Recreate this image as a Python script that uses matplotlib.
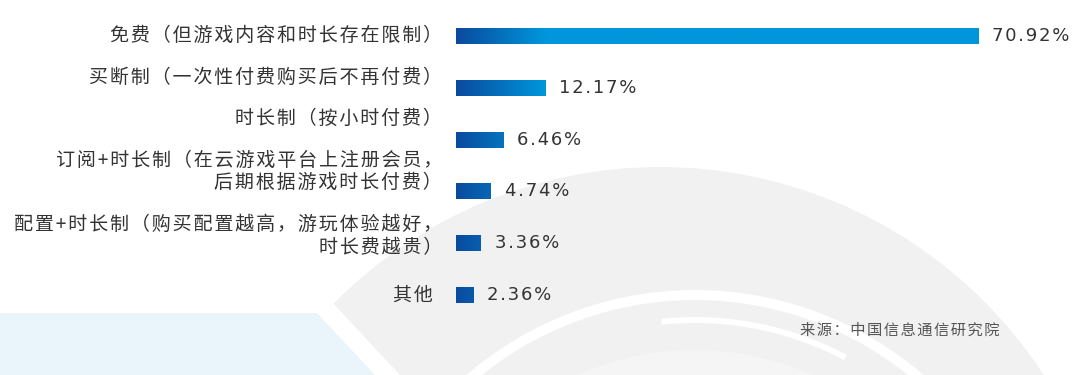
import numpy as np
import matplotlib
matplotlib.use("Agg")
import matplotlib.pyplot as plt
from matplotlib.patches import Circle, Polygon, Wedge
from matplotlib.colors import to_rgb

plt.rcParams['font.family'] = ['Noto Sans CJK SC', 'DejaVu Sans']

categories = [
    "免费（但游戏内容和时长存在限制）",
    "买断制（一次性付费购买后不再付费）",
    "时长制（按小时付费）",
    "订阅+时长制（在云游戏平台上注册会员，\n后期根据游戏时长付费）",
    "配置+时长制（购买配置越高，游玩体验越好，\n时长费越贵）",
    "其他",
]
shares = [70.92, 12.17, 6.46, 4.74, 3.36, 2.36]
value_labels = ["70.92%", "12.17%", "6.46%", "4.74%", "3.36%", "2.36%"]
source = "来源：中国信息通信研究院"

# the category labels don't sit exactly on their bars in the original (px, up is negative)
label_dy = [0, -10, -21, -20, -7, 0]


def spaced(s, sep='\u200a'):
    # the original text is set with a little tracking
    return '\n'.join(sep.join(line) for line in s.split('\n'))


W, H = 1080, 375
fig = plt.figure(figsize=(W / 100, H / 100), dpi=100)

# background decoration, in pixel coords
bg = fig.add_axes([0, 0, 1, 1])
bg.set_xlim(0, W)
bg.set_ylim(H, 0)
bg.axis('off')

clip = Polygon([(50, 0), (W, 0), (W, H), (400, H)], closed=True, transform=bg.transData)
disc = Circle((660, 625), 458, facecolor='#f1f1f1', edgecolor='none')
bg.add_patch(disc)
disc.set_clip_path(clip)
ring = Wedge((695, 640), 350, 180, 360, width=10, facecolor='white', edgecolor='none')
bg.add_patch(ring)
arc = Wedge((695, 640), 323, 264, 298, width=6, facecolor='white', edgecolor='none')
bg.add_patch(arc)
inner = Circle((695, 640), 290, facecolor='#f5f5f5', edgecolor='none')
bg.add_patch(inner)
bg.add_patch(Polygon([(0, 313), (317, 313), (375, H), (0, H)], closed=True,
                     facecolor='#eaf5fb', edgecolor='none'))

# bars
ax = fig.add_axes([456 / W, 1 - 321 / H, 589 / W, 311 / H])
ypos = np.arange(len(shares))
bars = ax.barh(ypos, shares, height=0.31, color='none', edgecolor='none')

dark = np.array(to_rgb('#0a4a9e'))
light = np.array(to_rgb('#0096da'))
for bar, v in zip(bars, shares):
    xs = np.linspace(0, v, 300)
    t = np.clip(xs / 12.0, 0, 1)[None, :, None]
    img = dark * (1 - t) + light * t
    y0, h = bar.get_y(), bar.get_height()
    im = ax.imshow(img, extent=[0, v, y0 + h, y0], aspect='auto',
                   interpolation='bilinear')
    im.set_clip_path(bar)

ax.set_xlim(0, 80)
ax.set_ylim(5.5, -0.5)
ax.axis('off')

for i, (cat, v, lab) in enumerate(zip(categories, shares, value_labels)):
    dx = -10 if cat[-1] in '），' else -16.5
    ax.annotate(spaced(cat), xy=(0, i), xytext=(dx, -label_dy[i] * 0.72),
                textcoords='offset points', ha='right', va='center',
                multialignment='right', fontsize=13.7, color='#333333',
                linespacing=1.1)
    ax.annotate(spaced(lab), xy=(v, i), xytext=(10, 0), textcoords='offset points',
                ha='left', va='center', fontsize=13, family='DejaVu Sans',
                color='#333333')

fig.text(999 / W, 1 - 330 / H, spaced(source), ha='right', va='center',
         fontsize=11, color='#555555')

fig.savefig('out.png', dpi=100)
